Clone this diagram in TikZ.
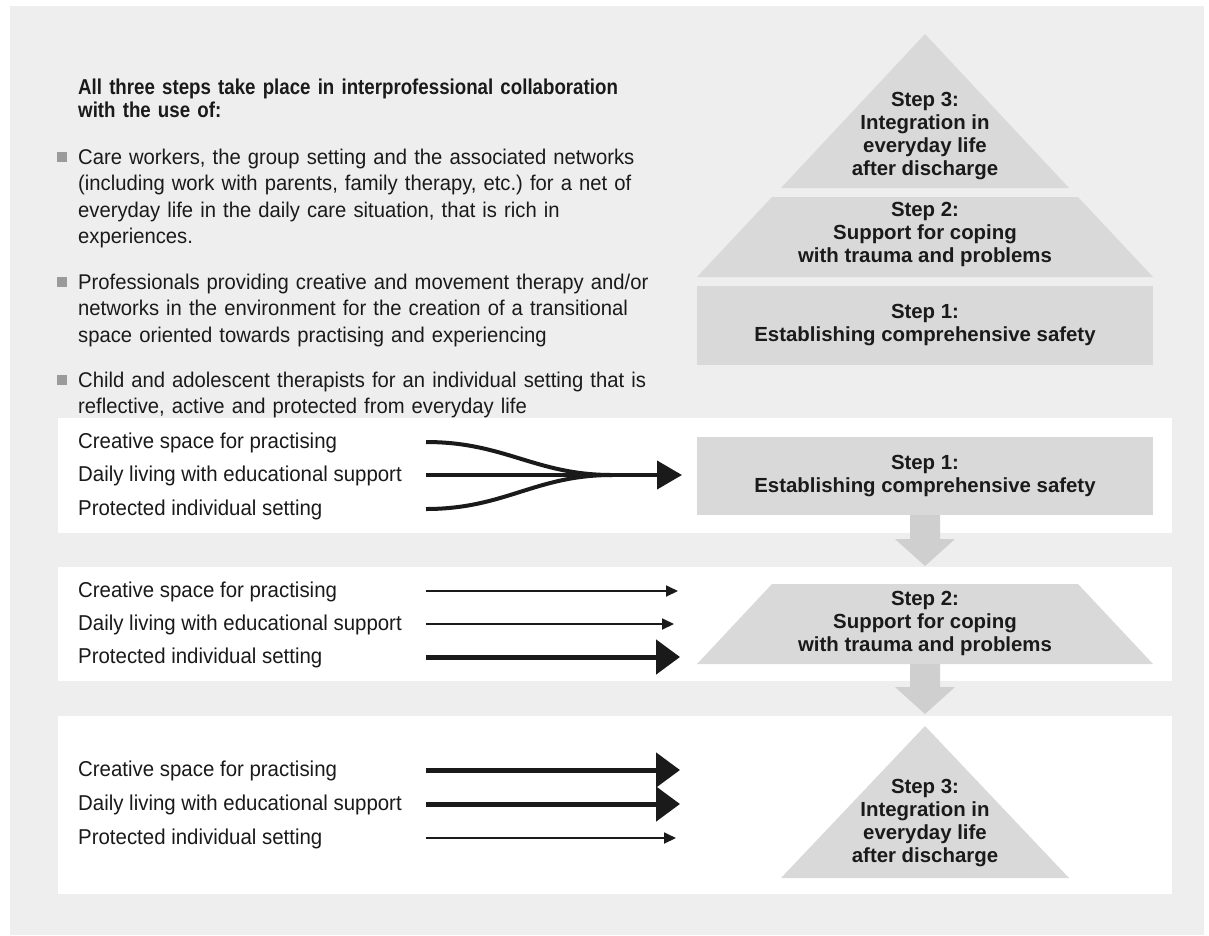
\documentclass[tikz,border=0pt]{standalone}
\usepackage{fontspec}
\setmainfont{Liberation Sans}
\newfontfamily\headfont[FakeStretch=0.87]{Liberation Sans}
\newfontfamily\bodyfont[FakeStretch=0.95]{Liberation Sans}
\usetikzlibrary{arrows.meta}
\frenchspacing

\definecolor{panelgray}{HTML}{EEEEEE}
\definecolor{stepgray}{HTML}{D9D9D9}
\definecolor{flowgray}{HTML}{CFCFCF}
\definecolor{bulletgray}{HTML}{9A9A9A}
\definecolor{ink}{HTML}{1A1A1A}

\tikzset{
  steptext/.style={font=\bfseries\fontsize{20.4}{23}\selectfont, text=ink, align=center, inner sep=0},
  bodytext/.style={font=\bodyfont\fontsize{21.3}{26.5}\selectfont, text=ink, anchor=base west,
                   inner sep=0, text width=700pt, align=left},
  headtext/.style={bodytext, font=\headfont\bfseries\fontsize{21.5}{23}\selectfont},
  bandtext/.style={font=\bodyfont\fontsize{21.5}{24}\selectfont, text=ink, anchor=base west, inner sep=0},
  bulletmark/.style={fill=bulletgray, minimum size=10pt, inner sep=0},
  heavy/.style={draw=ink, line width=5pt, -{Triangle[length=24pt,width=34pt]}},
  light/.style={draw=ink, line width=1.8pt, -{Triangle[length=12pt,width=11pt]}},
  merged/.style={draw=ink, line width=4pt, -{Triangle[length=25pt,width=28pt]}},
  merge/.style={draw=ink, line width=4pt},
  stepfill/.style={fill=stepgray},
  flowarrow/.style={fill=flowgray},
  band/.style={fill=white},
}

\begin{document}
\begin{tikzpicture}[x=1pt, y=-1pt]
\useasboundingbox (0,0) rectangle (1209,935);

% panel
\fill[panelgray] (10,6) rectangle (1204,935);

% ---------- intro text ----------
\node[headtext] (intro) at (78,94)
  {All three steps take place in interprofessional collaboration\\with the use of:};

\node[bulletmark] (m1) at (62,157) {};
\node[bodytext] (item1) at (78,164)
  {Care workers, the group setting and the associated networks\\
   (including work with parents, family therapy, etc.) for a net of\\
   everyday life in the daily care situation, that is rich in\\
   experiences.};

\node[bulletmark] (m2) at (62,282) {};
\node[bodytext] (item2) at (78,289)
  {Professionals providing creative and movement therapy and/or\\
   networks in the environment for the creation of a transitional\\
   space oriented towards practising and experiencing};

\node[bulletmark] (m3) at (62,380) {};
\node[bodytext] (item3) at (78,387)
  {Child and adolescent therapists for an individual setting that is\\
   reflective, active and protected from everyday life};

% ---------- pyramid ----------
\fill[stepfill] (925,34) -- (1069,188) -- (781,188) -- cycle;
\fill[stepfill] (772,197) -- (1078,197) -- (1153,277) -- (697,277) -- cycle;
\fill[stepfill] (697,286) rectangle (1153,365);

\node[steptext] (top3) at (925,136) {Step 3:\\Integration in\\everyday life\\after discharge};
\node[steptext] (top2) at (925,234.5) {Step 2:\\Support for coping\\with trauma and problems};
\node[steptext] (top1) at (925,325.5) {Step 1:\\Establishing comprehensive safety};

% ---------- bands ----------
\fill[band] (58,418) rectangle (1172,533);
\fill[band] (58,567) rectangle (1172,681);
\fill[band] (58,716) rectangle (1172,894);

% band 1
\fill[stepfill] (697,437) rectangle (1153,515);
\node[steptext] (b1step) at (925,476) {Step 1:\\Establishing comprehensive safety};
\node[bandtext] (b1a) at (78,448.5) {Creative space for practising};
\node[bandtext] (b1b) at (78,481.5) {Daily living with educational support};
\node[bandtext] (b1c) at (78,515.5) {Protected individual setting};

\coordinate (s1a) at (426,442);
\coordinate (s1b) at (426,475);
\coordinate (s1c) at (426,509);
\coordinate (join1) at (612,475);
\coordinate (tip1) at (682,475);
\draw[merge] (s1a) .. controls (505,442) and (535,475) .. (join1);
\draw[merge] (s1c) .. controls (505,509) and (535,475) .. (join1);
\draw[merged] (s1b) -- (tip1);

% flow arrow 1 -> 2
\fill[flowarrow] (910,515) -- (940,515) -- (940,539) -- (955,539) -- (925,566)
  -- (895,539) -- (910,539) -- cycle;

% band 2
\fill[stepfill] (772,584) -- (1078,584) -- (1153,664) -- (697,664) -- cycle;
\node[steptext] (b2step) at (925,623) {Step 2:\\Support for coping\\with trauma and problems};
\node[bandtext] (b2a) at (78,597.5) {Creative space for practising};
\node[bandtext] (b2b) at (78,630.5) {Daily living with educational support};
\node[bandtext] (b2c) at (78,663.5) {Protected individual setting};

\coordinate (s2a) at (426,591);
\coordinate (s2b) at (426,624);
\coordinate (s2c) at (426,657);
\coordinate (t2a) at (678,591);
\coordinate (t2b) at (674,624);
\coordinate (t2c) at (680,657);
\draw[light] (s2a) -- (t2a);
\draw[light] (s2b) -- (t2b);
\draw[heavy] (s2c) -- (t2c);

% flow arrow 2 -> 3
\fill[flowarrow] (910,664) -- (940,664) -- (940,687) -- (955,687) -- (925,714)
  -- (895,687) -- (910,687) -- cycle;

% band 3
\fill[stepfill] (925,726) -- (1069,878) -- (781,878) -- cycle;
\node[steptext] (b3step) at (925,823) {Step 3:\\Integration in\\everyday life\\after discharge};
\node[bandtext] (b3a) at (78,776.5) {Creative space for practising};
\node[bandtext] (b3b) at (78,810.5) {Daily living with educational support};
\node[bandtext] (b3c) at (78,844.5) {Protected individual setting};

\coordinate (s3a) at (426,770);
\coordinate (s3b) at (426,804);
\coordinate (s3c) at (426,838);
\coordinate (t3a) at (680,770);
\coordinate (t3b) at (680,804);
\coordinate (t3c) at (676,838);
\draw[heavy] (s3a) -- (t3a);
\draw[heavy] (s3b) -- (t3b);
\draw[light] (s3c) -- (t3c);
\end{tikzpicture}
\end{document}
